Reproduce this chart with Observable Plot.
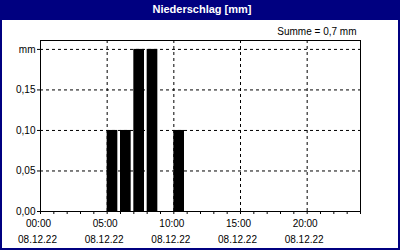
<!DOCTYPE html>
<html>
<head>
<meta charset="utf-8">
<script src="https://cdn.jsdelivr.net/npm/d3@7"></script>
<script src="https://cdn.jsdelivr.net/npm/@observablehq/plot@0.6"></script>
<style>
  html, body { margin: 0; padding: 0; background: white; }
  #wrap { width: 400px; height: 250px; box-sizing: border-box; border: 2px solid #000080; border-top: none; background: white; overflow: hidden; }
  #title { height: 20px; margin: 0 -2px; background: #000080; color: white; font: bold 11px "Liberation Sans", Arial, sans-serif; text-align: center; line-height: 18px; padding-left: 4px; }
  svg { display: block; }
</style>
</head>
<body>
<div id="wrap">
  <div id="title">Niederschlag [mm]</div>
  <div id="chart"></div>
</div>
<script>
const chartTitle = "Niederschlag [mm]";
const hours = [5, 6, 7, 8, 10];
const values = [0.10, 0.10, 0.20, 0.20, 0.10];
const barWidthHours = 0.8;
const xMajorTicks = [0, 5, 10, 15, 20];
const xMinorTicks = d3.range(0, 25);
const timeLabels = ["00:00", "05:00", "10:00", "15:00", "20:00"];
const dateLabel = "08.12.22";
const yTicks = [0, 0.05, 0.10, 0.15, 0.20];
const yTickLabels = ["0,00", "0,05", "0,10", "0,15", "mm"];
const yMax = 0.211;

const data = hours.map((h, i) => ({h, v: values[i]}));
const total = d3.sum(values);
const summe = "Summe = " + total.toFixed(1).replace(".", ",") + " mm";

document.getElementById("title").textContent = chartTitle;

const plot = Plot.plot({
  width: 396,
  height: 228,
  marginLeft: 38,
  marginRight: 38,
  marginTop: 20,
  marginBottom: 37,
  style: {fontFamily: "'Liberation Sans', Arial, sans-serif", fontSize: "10px", background: "white", color: "black"},
  x: {domain: [0, 24]},
  y: {domain: [0, yMax]},
  marks: [
    Plot.gridY(yTicks.filter(d => d > 0), {stroke: "black", strokeOpacity: 1, strokeDasharray: "3,3"}),
    Plot.gridX(xMajorTicks.filter(d => d > 0), {stroke: "black", strokeOpacity: 1, strokeDasharray: "3,3"}),
    Plot.rectY(data, {x1: "h", x2: d => d.h + barWidthHours, y: "v", fill: "black"}),
    Plot.frame({stroke: "black"}),
    Plot.axisY({ticks: yTicks, tickSize: 3, tickPadding: 2, tickFormat: d => yTickLabels[yTicks.indexOf(d)], label: null}),
    Plot.axisX({ticks: xMinorTicks, tickSize: 3, fill: "none", label: null}),
    Plot.axisX({ticks: xMajorTicks, tickSize: 0, tickPadding: 8, dx: -2, tickFormat: d => timeLabels[xMajorTicks.indexOf(d)], label: null}),
    Plot.axisX({ticks: xMajorTicks, tickSize: 0, tickPadding: 24, dx: -3, tickFormat: () => dateLabel, label: null}),
    Plot.text([summe], {frameAnchor: "top-right", textAnchor: "end", lineAnchor: "middle", dx: -4, dy: -9, text: d => d})
  ]
});
document.getElementById("chart").appendChild(plot);
</script>
</body>
</html>
